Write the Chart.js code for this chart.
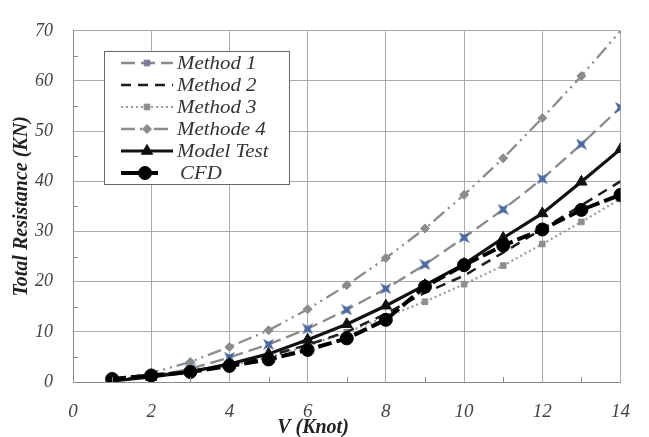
<!DOCTYPE html>
<html>
<head>
<meta charset="utf-8">
<script src="https://cdn.jsdelivr.net/npm/chart.js@4/dist/chart.umd.min.js"></script>
<style>
html,body{margin:0;padding:0;background:#fff;}
#wrap{width:649px;height:437px;position:relative;}
</style>
</head>
<body>
<div id="wrap"><canvas id="c" width="649" height="437"></canvas></div>
<script>
const velocity = [1, 2, 3, 4, 5, 6, 7, 8, 9, 10, 11, 12, 13, 14];
const method1 = [0.4, 1.2, 2.6, 4.9, 7.5, 10.6, 14.4, 18.6, 23.4, 28.8, 34.4, 40.5, 47.4, 54.7];
const method2 = [0.4, 1.2, 2.2, 3.5, 5.2, 7.4, 10.0, 13.6, 17.8, 21.2, 25.8, 30.5, 35.2, 40.0];
const method3 = [0.4, 1.1, 2.0, 3.2, 4.9, 7.2, 9.9, 13.0, 16.0, 19.5, 23.2, 27.5, 31.9, 36.5];
const method4 = [0.6, 1.8, 4.0, 7.0, 10.3, 14.5, 19.3, 24.7, 30.6, 37.3, 44.6, 52.6, 61.0, 70.0];
const modelTest = [0.2, 1.0, 2.0, 3.6, 5.6, 8.4, 11.5, 15.2, 19.3, 23.5, 28.7, 33.6, 39.9, 46.4];
const cfd = [0.6, 1.3, 2.0, 3.2, 4.5, 6.4, 8.7, 12.4, 19.0, 23.3, 27.2, 30.4, 34.3, 37.3];
const seriesNames = ['Method 1', 'Method 2', 'Method 3', 'Methode 4', 'Model Test', 'CFD'];
const xTicks = [0, 2, 4, 6, 8, 10, 12, 14];
const yTicks = [0, 10, 20, 30, 40, 50, 60, 70];
const xTitle = 'V (Knot)';
const yTitle = 'Total Resistance (KN)';

function pts(arr){ return velocity.map((v,i)=>({x:v,y:arr[i]})); }

// 4-point star marker for Method 1
function starMarker(){
  const c = document.createElement('canvas');
  c.width = 11; c.height = 11;
  const g = c.getContext('2d');
  g.fillStyle = '#4d6a9e';
  g.beginPath();
  g.moveTo(0,0); g.lineTo(5.5,2.8); g.lineTo(11,0); g.lineTo(8.2,5.5);
  g.lineTo(11,11); g.lineTo(5.5,8.2); g.lineTo(0,11); g.lineTo(2.8,5.5);
  g.closePath(); g.fill();
  return c;
}
const star = starMarker();

const datasets = [
  {label: seriesNames[0], data: pts(method1), borderColor:'#8a8a8a', borderWidth:2.3, borderDash:[14,6],
   pointStyle: star, pointRadius:5, backgroundColor:'#4d6a9e', pointBorderColor:'#4d6a9e', order:4},
  {label: seriesNames[1], data: pts(method2), borderColor:'#1e1e1e', borderWidth:2.5, borderDash:[10,7],
   pointRadius:0, order:2},
  {label: seriesNames[2], data: pts(method3), borderColor:'#9a9a9a', borderWidth:2.2, borderDash:[2,3],
   pointStyle:'rect', pointRadius:4, backgroundColor:'#8e8e8e', pointBorderColor:'#8e8e8e', order:3},
  {label: seriesNames[3], data: pts(method4), borderColor:'#8c8c8c', borderWidth:2.3, borderDash:[14,5,2,5,2,5],
   pointStyle:'rectRot', pointRadius: velocity.map((v,i)=> i===velocity.length-1 ? 0 : 4.5),
   backgroundColor:'#8c8c8c', pointBorderColor:'#8c8c8c', order:5},
  {label: seriesNames[4], data: pts(modelTest), borderColor:'#111', borderWidth:3.2, borderDash:[],
   pointStyle:'triangle', pointRadius:6.5, backgroundColor:'#111', pointBorderColor:'#111', order:1},
  {label: seriesNames[5], data: pts(cfd), borderColor:'#000', borderWidth:4, borderDash:[14,5],
   pointStyle:'circle', pointRadius:6.5, backgroundColor:'#000', pointBorderColor:'#000', order:0}
];
datasets.forEach(d=>{ d.tension = 0; d.fill = false; d.pointBorderWidth = 1; d.pointHoverRadius = d.pointRadius; });

const minorTicks = {
  id:'minorTicks',
  afterDatasetsDraw(chart){
    const ctx = chart.ctx, xs = chart.scales.x, ys = chart.scales.y;
    ctx.save();
    ctx.strokeStyle = '#8a8a8a'; ctx.lineWidth = 1;
    ctx.beginPath();
    for (let v = 5; v < 70; v += 10){
      const y = Math.round(ys.getPixelForValue(v)) + 0.5;
      ctx.moveTo(xs.left, y); ctx.lineTo(xs.left + 5, y);
    }
    for (let v = 1; v < 14; v += 2){
      const x = Math.round(xs.getPixelForValue(v)) + 0.5;
      ctx.moveTo(x, ys.bottom); ctx.lineTo(x, ys.bottom - 5);
    }
    ctx.stroke();
    ctx.restore();
  }
};

const xAxisTitle = {
  id:'xAxisTitle',
  afterDraw(chart){
    const ctx = chart.ctx;
    ctx.save();
    ctx.fillStyle = '#222';
    ctx.font = 'italic bold 20px "Liberation Serif", serif';
    ctx.textAlign = 'center';
    ctx.textBaseline = 'middle';
    ctx.fillText(xTitle, 313, 428);
    ctx.restore();
  }
};

const boxLegend = {
  id:'boxLegend',
  afterDraw(chart){
    const ctx = chart.ctx;
    ctx.save();
    const bx = 104.5, by = 51.5, bw = 185, bh = 133;
    ctx.fillStyle = '#fff';
    ctx.fillRect(bx, by, bw, bh);
    ctx.strokeStyle = '#666'; ctx.lineWidth = 1;
    ctx.strokeRect(bx, by, bw, bh);
    [0,1,2,3,4,5].forEach((di, i) => {
      const ds = chart.data.datasets[di];
      const y = 63 + i * 22;
      const x0 = 121, x1 = (di === 5) ? 158 : 173;
      ctx.save();
      ctx.strokeStyle = ds.borderColor;
      ctx.lineWidth = ds.borderWidth;
      ctx.setLineDash(di === 4 || di === 5 ? [] : ds.borderDash);
      ctx.beginPath(); ctx.moveTo(x0, y); ctx.lineTo(x1, y); ctx.stroke();
      ctx.restore();
      const r = Array.isArray(ds.pointRadius) ? ds.pointRadius[0] : ds.pointRadius;
      if (r > 0 && Chart.helpers && Chart.helpers.drawPoint){
        ctx.save();
        ctx.fillStyle = di === 0 ? '#7a7a9a' : ds.backgroundColor;
        ctx.strokeStyle = di === 0 ? '#7a7a9a' : ds.pointBorderColor;
        ctx.lineWidth = 1;
        ctx.setLineDash([]);
        const style = di === 0 ? 'rect' : ds.pointStyle;
        Chart.helpers.drawPoint(ctx, {pointStyle: style, radius: di === 0 ? 4 : r, rotation: 0, borderWidth: 1}, (di===5? 145 : 147), y);
        ctx.restore();
      }
      ctx.save();
      ctx.fillStyle = '#333';
      ctx.font = 'italic 19px "Liberation Serif", "DejaVu Serif", serif';
      ctx.textBaseline = 'middle';
      ctx.textAlign = 'left';
      const tx = di === 5 ? 180 : 177;
      ctx.translate(tx, y + 1);
      ctx.scale(1.1, 1);
      ctx.fillText(ds.label, 0, 0);
      ctx.restore();
    });
    ctx.restore();
  }
};

new Chart(document.getElementById('c'), {
  type:'line',
  data:{datasets},
  options:{
    responsive:false,
    animation:false,
    devicePixelRatio:1,
    layout:{padding:{top:17, right:21, left:0, bottom:0}},
    plugins:{legend:{display:false}, tooltip:{enabled:false}},
    scales:{
      x:{
        type:'linear', min:0, max:14,
        afterBuildTicks(s){ s.ticks = xTicks.map(v=>({value:v})); },
        afterFit(s){ s.height = 55; },
        grid:{color:'#ababab', lineWidth:1, drawTicks:false},
        border:{color:'#8a8a8a', width:1},
        ticks:{padding:19, color:'#444', font:{family:'"Liberation Serif", serif', style:'italic', size:19}, maxRotation:0},
        title:{display:false}
      },
      y:{
        type:'linear', min:0, max:70,
        afterBuildTicks(s){ s.ticks = yTicks.map(v=>({value:v})); },
        afterFit(s){ s.width = 73; },
        grid:{color:'#ababab', lineWidth:1, drawTicks:false},
        border:{color:'#8a8a8a', width:1},
        ticks:{padding:20, color:'#444', font:{family:'"Liberation Serif", serif', style:'italic', size:18}},
        title:{display:true, text:yTitle, color:'#222', padding:{top:10, bottom:0},
               font:{family:'"Liberation Serif", serif', style:'italic', weight:'bold', size:20}}
      }
    }
  },
  plugins:[minorTicks, xAxisTitle, boxLegend]
});
</script>
</body>
</html>
